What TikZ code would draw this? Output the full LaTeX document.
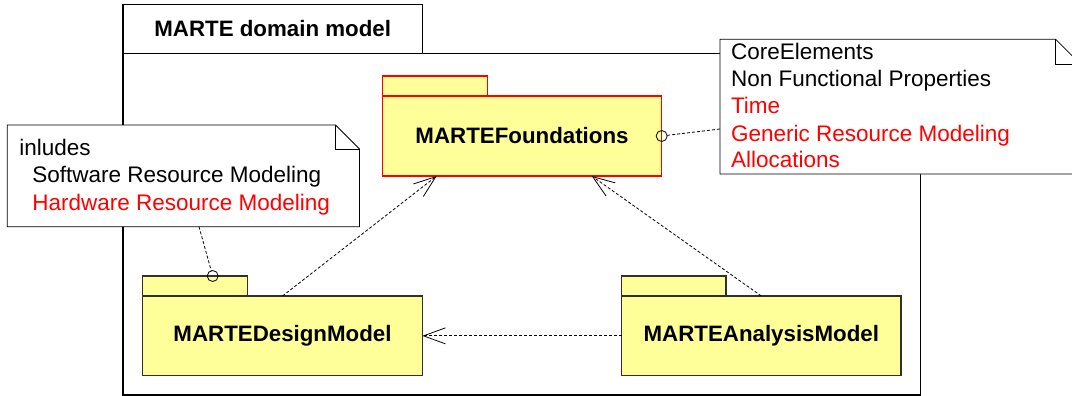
\documentclass[tikz,border=0pt]{standalone}
\usepackage{fontspec}
\setmainfont{Liberation Sans}
\usetikzlibrary{arrows.meta,calc}
\definecolor{pkgyellow}{HTML}{FFFF99}
\definecolor{pkgred}{HTML}{FF0000}
\definecolor{txtred}{HTML}{FF0000}
\definecolor{pkgline}{HTML}{303030}
\begin{document}
\begin{tikzpicture}[x=1pt,y=-1pt,
  every node/.style={inner sep=0pt,outer sep=0pt},
  framebox/.style={draw=black,line width=1.4pt,rectangle},
  pkgbody/.style={draw=pkgline,fill=pkgyellow,line width=1.1pt,rectangle,
    font=\fontsize{22.3}{27}\selectfont\bfseries},
  pkgtab/.style={draw=pkgline,fill=pkgyellow,line width=1.1pt,rectangle},
  redpkg/.style={draw=pkgred},
  notearea/.style={rectangle,draw=none},
  noteshape/.style={draw=black,fill=white,line width=0.8pt,line join=miter},
  notetext/.style={anchor=base west,font=\fontsize{22.5}{27}\selectfont},
  anchorcirc/.style={circle,draw=black,line width=0.8pt,minimum size=11pt},
  notelink/.style={draw=black,line width=0.8pt,dash pattern=on 3pt off 2pt},
  depend/.style={draw=black,line width=0.8pt,dash pattern=on 3pt off 2pt,
    -{Straight Barb[length=22pt,width=16pt,line width=0.8pt]}}
]
\useasboundingbox (0,0) rectangle (1072,396);
\clip (0,0) rectangle (1072,396);

% outer frame
\node[framebox,minimum width=797.5pt,minimum height=341.7pt,anchor=north west] (frame) at (122.9,53.3) {};
\node[framebox,minimum width=299.6pt,minimum height=48.6pt,anchor=south west,
  font=\fontsize{22.3}{27}\selectfont\bfseries] (frametab) at (frame.north west) {MARTE domain model};

% packages
\node[pkgbody,redpkg,minimum width=279.4pt,minimum height=80pt] (found) at (522,136) {MARTEFoundations};
\node[pkgtab,redpkg,minimum width=105pt,minimum height=20pt,anchor=south west] (foundtab) at (found.north west) {};

\node[pkgbody,minimum width=279.6pt,minimum height=79.7pt,anchor=north west] (design) at (142.7,296) {MARTEDesignModel};
\node[pkgtab,minimum width=105pt,minimum height=20pt,anchor=south west] (designtab) at (design.north west) {};

\node[pkgbody,minimum width=279.3pt,minimum height=79.7pt,anchor=north west] (analysis) at (621.7,296) {MARTEAnalysisModel};
\node[pkgtab,minimum width=104.3pt,minimum height=20pt,anchor=south west] (analysistab) at (analysis.north west) {};

% left note
\node[notearea,minimum width=352.2pt,minimum height=101.7pt,anchor=north west] (noteL) at (7.3,125) {};
\draw[noteshape] (noteL.south west) -- (noteL.north west) -- ([xshift=-24pt]noteL.north east)
  -- ([yshift=-24pt]noteL.north east) -- (noteL.south east) -- cycle;
\draw[noteshape,fill=none] ([xshift=-24pt]noteL.north east) -- ([xshift=-24pt,yshift=-24pt]noteL.north east)
  -- ([yshift=-24pt]noteL.north east);
\node[notetext] (nl1) at ([xshift=12pt,yshift=-30pt]noteL.north west) {inludes};
\node[notetext] (nl2) at ([xshift=25pt,yshift=-57.7pt]noteL.north west) {Software Resource Modeling};
\node[notetext,text=txtred] (nl3) at ([xshift=25pt,yshift=-85pt]noteL.north west) {Hardware Resource Modeling};

% right note
\node[notearea,minimum width=360.7pt,minimum height=134.7pt,anchor=north west] (noteR) at (720,39.3) {};
\draw[noteshape] (noteR.south west) -- (noteR.north west) -- ([xshift=-25pt]noteR.north east)
  -- ([yshift=-25pt]noteR.north east) -- (noteR.south east) -- cycle;
\draw[noteshape,fill=none] ([xshift=-25pt]noteR.north east) -- ([xshift=-25pt,yshift=-25pt]noteR.north east)
  -- ([yshift=-25pt]noteR.north east);
\node[notetext] (nr1) at ([xshift=11pt,yshift=-20pt]noteR.north west) {CoreElements};
\node[notetext] (nr2) at ([xshift=11pt,yshift=-47.3pt]noteR.north west) {Non Functional Properties};
\node[notetext,text=txtred] (nr3) at ([xshift=11pt,yshift=-74pt]noteR.north west) {Time};
\node[notetext,text=txtred] (nr4) at ([xshift=11pt,yshift=-101.7pt]noteR.north west) {Generic Resource Modeling};
\node[notetext,text=txtred] (nr5) at ([xshift=11pt,yshift=-127.7pt]noteR.north west) {Allocations};

% note anchors
\node[anchorcirc] (circF) at (found.east) {};
\coordinate (noteRpt) at ([yshift=-89.7pt]noteR.north west);
\draw[notelink] (circF) -- (noteRpt);

\node[anchorcirc] (circD) at ([xshift=70pt]designtab.north west) {};
\coordinate (noteLpt) at ([xshift=191.7pt]noteL.south west);
\draw[notelink] (noteLpt) -- (circD);

% dependencies
\coordinate (tipD) at ([xshift=54.4pt]found.south west);
\coordinate (tipA) at ([xshift=209.4pt]found.south west);
\draw[depend] (design.north) -- (tipD);
\draw[depend] (analysis.north) -- (tipA);
\draw[depend] (analysis.west) -- (design.east);
\end{tikzpicture}
\end{document}
